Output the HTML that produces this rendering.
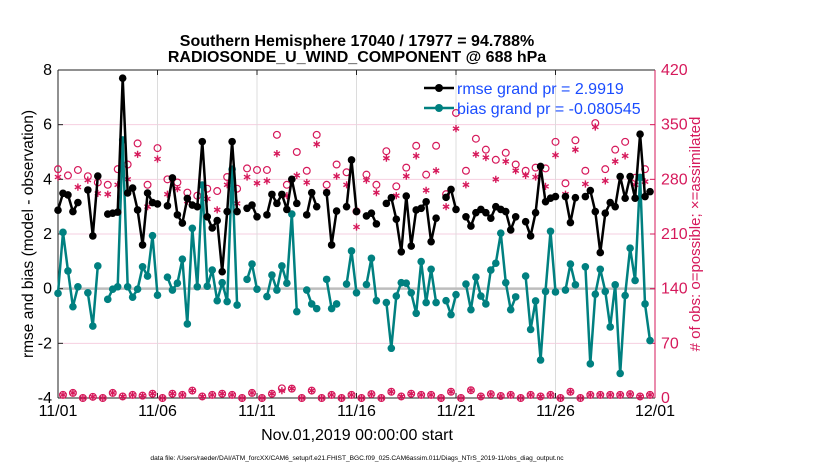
<!DOCTYPE html>
<html><head><meta charset="utf-8"><style>
body{margin:0;background:#fff;}
svg text{font-family:"Liberation Sans",sans-serif;}
</style></head><body>
<svg id="chart" width="830" height="470" xmlns="http://www.w3.org/2000/svg">
<rect width="830" height="470" fill="#fff"/>
<text x="357" y="46" text-anchor="middle" font-size="16" font-weight="bold">Southern Hemisphere 17040 / 17977 = 94.788%</text>
<text x="357" y="62" text-anchor="middle" font-size="16" font-weight="bold">RADIOSONDE_U_WIND_COMPONENT @ 688 hPa</text>
<g id="grid"></g>
<g id="axes"></g>
<g id="marks"></g>
<text transform="translate(33,234) rotate(-90)" text-anchor="middle" font-size="15.5">rmse and bias (model - observation)</text>
<text transform="translate(700,234) rotate(-90)" text-anchor="middle" font-size="15" fill="#d6195b"># of obs: o=possible; ×=assimilated</text>
<text x="357" y="440" text-anchor="middle" font-size="16">Nov.01,2019 00:00:00 start</text>
<text x="357" y="460" text-anchor="middle" font-size="6.6">data file: /Users/raeder/DAI/ATM_forcXX/CAM6_setup/f.e21.FHIST_BGC.f09_025.CAM6assim.011/Diags_NTrS_2019-11/obs_diag_output.nc</text>
<g>
<line x1="424" y1="88" x2="454" y2="88" stroke="#000" stroke-width="2.5"/>
<circle cx="439" cy="88" r="4" fill="#000"/>
<text x="457" y="94" font-size="16" fill="#1a4cff">rmse grand pr = 2.9919</text>
<line x1="424" y1="108" x2="454" y2="108" stroke="#008080" stroke-width="2.5"/>
<circle cx="439" cy="108" r="4" fill="#008080"/>
<text x="457" y="114" font-size="16" fill="#1a4cff">bias grand pr = -0.080545</text>
</g>
</svg>
<script>
const rmse=[2.87,3.49,3.43,2.82,3.15,null,3.61,1.93,4.12,null,
2.73,2.76,2.8,7.7,3.5,3.68,2.88,1.6,3.5,3.15,
3.1,null,3.03,4.05,2.7,2.4,3.3,3.06,3.0,5.38,
2.63,2.22,2.49,0.62,2.82,5.38,2.82,null,2.94,3.06,
2.63,null,2.7,3.45,3.12,3.45,2.9,4.0,3.12,null,
2.7,3.51,3.0,null,3.51,1.6,2.84,null,3.0,4.71,
2.82,null,2.66,2.76,2.37,null,3.12,3.33,2.54,1.35,
3.39,1.56,2.88,2.94,3.18,1.72,2.58,null,3.34,3.63,
2.9,null,2.63,2.29,2.78,2.9,2.78,2.58,3.0,2.9,
2.82,2.15,2.63,null,2.45,1.93,2.78,4.47,3.18,3.31,
3.37,null,3.37,2.42,3.33,null,3.37,3.59,2.82,1.32,
2.76,3.15,3.0,4.1,3.31,4.1,3.31,5.65,3.37,3.55];
const bias=[-0.17,2.06,0.65,-0.66,0.07,null,-0.15,-1.37,0.83,null,
-0.39,-0.02,0.07,5.44,0.07,-0.31,-0.02,0.8,0.46,1.94,
-0.24,null,0.42,-0.05,0.2,1.08,-1.29,2.21,0.07,3.79,
0.09,0.68,-0.44,0.22,-0.47,4.37,-0.6,null,0.34,0.9,
-0.02,null,-0.29,0.5,-0.05,0.83,0.2,2.73,-0.84,null,
-0.05,-0.56,-0.73,null,0.34,-0.73,-0.56,null,0.17,1.38,
-0.15,null,0.15,1.11,-0.44,null,-0.51,-2.18,-0.27,0.22,
0.2,-0.15,-0.9,0.99,-0.51,0.71,-0.51,null,-0.44,-0.95,
-0.22,null,0.17,-0.77,0.42,-0.27,-0.56,0.68,0.93,2.03,
0.22,-0.77,-0.3,null,0.46,-1.49,-0.45,-2.61,-0.1,2.1,
-0.12,null,-0.05,0.9,0.14,null,0.8,-2.75,-0.2,0.71,
-0.1,-1.4,0.14,-3.1,-0.25,1.48,0.3,4.07,-0.56,-1.9];
const possible=[293,4,285,6.5,292,0,284,1.5,276,0,
273,6.5,293,2,299,4,326,3,273,5.5,
320,0,280,5.5,276,4,263,9.5,259,2,
268,4,265,5.5,283,4,268,0,294,6.5,
292,0,292,5.5,337,12.4,273,12,315,0,
291,9.5,337,0,273,4,299,0,289,4,
239,0,286,5,273,0,316,8,271,2,
295,5.5,323,4,286,4,323,0,261,8,
365,0,291,10,332,2,318,5,305,2.6,
314,4,299,0,291,4,295,2,294,4,
328,0,275,8,330,0,291,4,352,4,
293,4,318,4,328,5,282,2,293,4];
const assim=[283,4,260,6.5,270,0,279,1.5,262,0,
261,6.5,273,2,280,4,312,3,245,5.5,
306,0,261,5.5,268,4,252,9.5,245,2,
255,4,241,5.5,273,4,249,0,283,6.5,
275,0,278,5.5,313,9.4,259,12,285,0,
276,9.5,325,0,264,4,284,0,273,4,
219,0,279,5,263,0,307,8,259,2,
284,5.5,310,4,266,4,291,0,245,8,
345,0,273,10,312,2,308,5,280,2.6,
303,4,291,0,285,4,283,2,271,4,
311,0,261,8,318,0,274,4,347,4,
278,4,303,4,310,5,273,2,277,4];
const leftTicks=[-4,-2,0,2,4,6,8];
const rightTicks=[0,70,140,210,280,350,420];
const xTickLabels=["11/01","11/06","11/11","11/16","11/21","11/26","12/01"];
const xTickDays=[0,5,10,15,20,25,30];

const X0=58,X1=655,Y0=70,Y1=398;
const xs=i=>X0+(i/4)*(X1-X0)/30;
const xd=d=>X0+d*(X1-X0)/30;
const yl=v=>Y1-(v+4)*(Y1-Y0)/12;
const yr=v=>Y1-v*(Y1-Y0)/420;
const NS="http://www.w3.org/2000/svg";
function mk(tag,attrs,parent){const e=document.createElementNS(NS,tag);for(const k in attrs)e.setAttribute(k,attrs[k]);parent.appendChild(e);return e;}
const grid=document.getElementById('grid'),axes=document.getElementById('axes'),marks=document.getElementById('marks');
const CR="#d6195b";
function starPath(cx,cy,s){
  let d="";
  for(let k=0;k<3;k++){const a=Math.PI/2+k*Math.PI/3;const dx=s*Math.cos(a),dy=s*Math.sin(a);
    d+="M"+(cx-dx).toFixed(1)+" "+(cy-dy).toFixed(1)+"L"+(cx+dx).toFixed(1)+" "+(cy+dy).toFixed(1);}
  return d;
}
leftTicks.forEach(v=>{
  const g=mk('line',{x1:X0,x2:X1,y1:yl(v),y2:yl(v),stroke:"#f6cfe0","stroke-width":1},grid);
  
  
  const t=mk('text',{x:X0-6,y:yl(v)+5,"text-anchor":"end","font-size":16},axes);t.textContent=v;
  
  
  mk('line',{x1:X0,x2:X0+5,y1:yl(v),y2:yl(v),stroke:"#222"},axes);
});
rightTicks.forEach(v=>{
  const t=mk('text',{x:X1+6,y:yr(v)+5,"font-size":16,fill:CR},axes);t.textContent=v;
  
  
  mk('line',{x1:X1-5,x2:X1,y1:yr(v),y2:yr(v),stroke:CR},axes);
});
xTickDays.forEach((d,k)=>{
  const g=mk('line',{x1:xd(d),x2:xd(d),y1:Y0,y2:Y1,stroke:"#dcdcdc","stroke-width":1},grid);
  
  
  const t=mk('text',{x:xd(d),y:416,"text-anchor":"middle","font-size":16},axes);t.textContent=xTickLabels[k];
  
  
  mk('line',{x1:xd(d),x2:xd(d),y1:Y1,y2:Y1-5,stroke:"#222"},axes);
  mk('line',{x1:xd(d),x2:xd(d),y1:Y0,y2:Y0+5,stroke:"#222"},axes);
});
const zl=mk('line',{x1:X0,x2:X1,y1:yl(0),y2:yl(0),stroke:"#bdbdbd","stroke-width":2.5},grid);


mk('line',{x1:X0,x2:X1,y1:Y0,y2:Y0,stroke:"#222"},axes);
mk('line',{x1:X0,x2:X1,y1:Y1,y2:Y1,stroke:"#222"},axes);
mk('line',{x1:X0,x2:X0,y1:Y0,y2:Y1,stroke:"#222"},axes);
mk('line',{x1:X1,x2:X1,y1:Y0,y2:Y1,stroke:CR},axes);

possible.forEach((v,i)=>{
  if(v==null)return;
  const c=mk('circle',{cx:xs(i),cy:yr(v),r:3.4,fill:"none",stroke:CR,"stroke-width":1.2},marks);
  
  
});
assim.forEach((v,i)=>{
  if(v==null)return;
  const p=mk('path',{d:starPath(xs(i),yr(v),3.6),stroke:CR,"stroke-width":1.4,fill:"none"},marks);
  
  
});
function series(arr,color,name){
  let d="",pen=false;
  arr.forEach((v,i)=>{ if(v==null){pen=false;return;} d+=(pen?"L":"M")+xs(i).toFixed(1)+" "+yl(v).toFixed(1)+" "; pen=true;});
  const p=mk('path',{d:d,fill:"none",stroke:color,"stroke-width":2.5,"stroke-linejoin":"round"},marks);
  
  
  arr.forEach((v,i)=>{ if(v==null)return;
    const c=mk('circle',{cx:xs(i),cy:yl(v),r:3.8,fill:color},marks);
    
    
  });
}
series(bias,"#008080","bias");
series(rmse,"#000","rmse");
</script>
</body></html>
